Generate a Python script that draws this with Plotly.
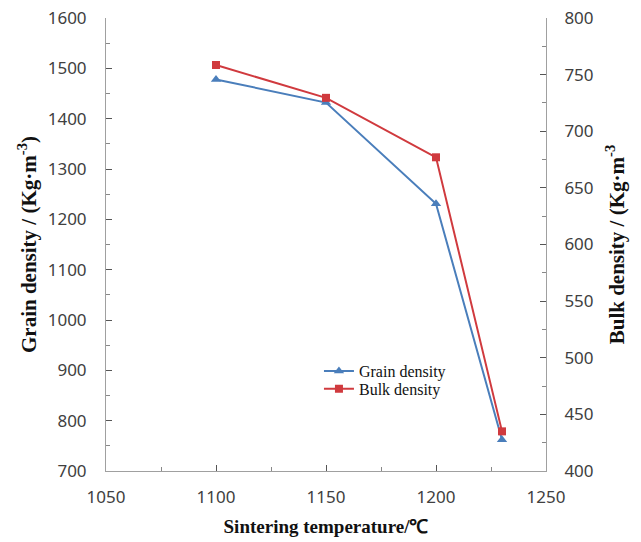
import plotly.graph_objects as go

temps = [1100, 1150, 1200, 1230]
grain_density = [1478, 1432, 1231, 762]
bulk_density = [758.5, 729.5, 677, 435]

left_ticks = [700, 800, 900, 1000, 1100, 1200, 1300, 1400, 1500, 1600]
right_ticks = [400, 450, 500, 550, 600, 650, 700, 750, 800]
x_ticks = [1050, 1100, 1150, 1200, 1250]

blue = "#4A7EBB"
red = "#D03A3E"
tickfont = dict(family="Noto Sans, Open Sans, sans-serif", size=17, color="#404040")
serif = "Liberation Serif, Times New Roman, serif"
xtitlefont = dict(family=serif, size=19, color="#111")
ytitlefont = dict(family=serif, size=21, color="#111")
legfont = dict(family=serif, size=16, color="#111")

fig = go.Figure()
fig.add_trace(go.Scatter(
    x=temps, y=grain_density, name="Grain density", mode="lines+markers",
    line=dict(color=blue, width=2), marker=dict(symbol="triangle-up", size=9, color=blue),
    yaxis="y", legend="legend"))
fig.add_trace(go.Scatter(
    x=temps, y=bulk_density, name="Bulk density", mode="lines+markers",
    line=dict(color=red, width=2), marker=dict(symbol="square", size=8, color=red),
    yaxis="y2", legend="legend2"))

axis_common = dict(showgrid=False, zeroline=False, showline=True, linecolor="#a0a0a0",
                   linewidth=1, ticks="inside", ticklen=6, tickcolor="#555", tickwidth=1,
                   tickfont=tickfont, automargin=False)

leg_common = dict(xanchor="left", yanchor="middle", font=legfont,
                  bgcolor="rgba(0,0,0,0)", itemwidth=30, borderwidth=0)

fig.update_layout(
    width=641, height=542,
    margin=dict(l=106, r=95, t=18, b=71),
    paper_bgcolor="white", plot_bgcolor="white",
    showlegend=True,
    legend=dict(x=0.484, y=0.2205, **leg_common),
    legend2=dict(x=0.484, y=0.1815, **leg_common),
    xaxis=dict(range=[1050, 1250], tickvals=x_ticks, ticklabelstandoff=11,
               minor=dict(dtick=25, ticks="inside", ticklen=4, tickcolor="#888"),
               title=dict(text="<b>Sintering temperature/℃</b>", font=xtitlefont, standoff=12),
               **axis_common),
    yaxis=dict(range=[700, 1600], tickvals=left_ticks, ticklabelstandoff=15,
               minor=dict(dtick=50, ticks="inside", ticklen=4, tickcolor="#888"),
               title=dict(text="<b>Grain density / (Kg·m<sup>-3</sup>)</b>", font=ytitlefont, standoff=5),
               **axis_common),
    yaxis2=dict(range=[400, 800], tickvals=right_ticks, overlaying="y", side="right",
                ticklabelstandoff=14,
                minor=dict(dtick=25, ticks="inside", ticklen=4, tickcolor="#888"),
                title=dict(text="<b>Bulk density / (Kg·m<sup>-3</sup></b>", font=ytitlefont, standoff=16),
                **axis_common),
)

fig.write_html("out.html", config={"displayModeBar": False},
               post_script="document.body.style.margin='0';document.body.style.padding='0';")
